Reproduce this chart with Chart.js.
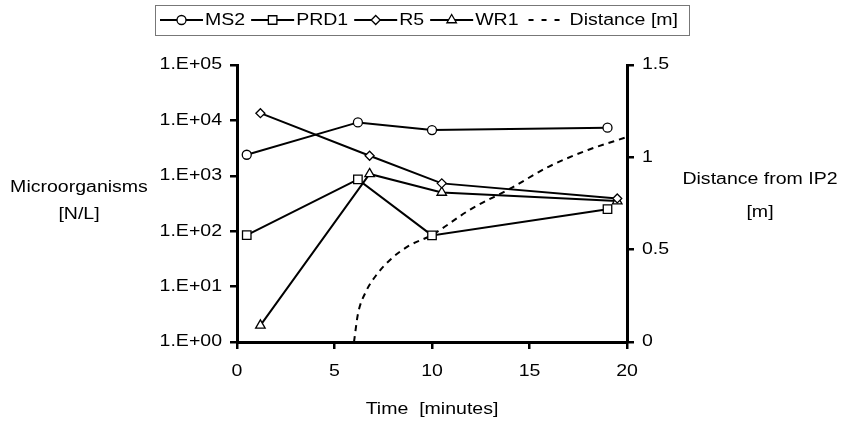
<!DOCTYPE html>
<html>
<head>
<meta charset="utf-8">
<title>Microorganisms vs time</title>
<script src="https://cdn.jsdelivr.net/npm/chart.js@4.4.1/dist/chart.umd.min.js"></script>
<style>
  html, body { margin: 0; padding: 0; background: #fff; }
  #wrap { width: 841px; height: 425px; position: relative; }
</style>
</head>
<body>
<div id="wrap"><canvas id="chart"></canvas></div>
<script>
// values
const ms2Time = [0.5, 6.2, 10.0, 19.0];
const ms2Values = [2400, 9200, 6700, 7400];

const prd1Time = [0.5, 6.2, 10.0, 19.0];
const prd1Values = [85, 860, 84, 250];

const r5Time = [1.2, 6.8, 10.5, 19.5];
const r5Values = [13500, 2300, 730, 390];

const wr1Time = [1.2, 6.8, 10.5, 19.5];
const wr1Values = [2.0, 1080, 500, 350];

const distTime = [6.0, 6.2, 6.6, 7.2, 7.9, 8.8, 10, 12, 14, 16, 18, 20];
const distValues = [0, 0.15, 0.27, 0.37, 0.45, 0.52, 0.58, 0.72, 0.83, 0.95, 1.04, 1.11];

const logTicks = [1, 10, 100, 1000, 10000, 100000];
const seriesNames = ['MS2', 'PRD1', 'R5', 'WR1', 'Distance [m]'];

const FONT = '16px "Liberation Sans", Arial, sans-serif';
const SX = 1.22; // reference text is a little wide
const INK = '#000';

function pts(xs, ys) {
  return xs.map((x, i) => ({ x: x, y: ys[i] }));
}

function series(label, xs, ys, style, radius) {
  return {
    label: label,
    data: pts(xs, ys),
    yAxisID: 'y',
    borderColor: INK,
    borderWidth: 2,
    pointStyle: style,
    pointRadius: radius,
    pointHoverRadius: radius,
    pointBackgroundColor: '#fff',
    pointBorderColor: INK,
    pointBorderWidth: 1.3,
    tension: 0
  };
}

function text(ctx, str, x, y, align) {
  ctx.save();
  ctx.translate(x, y);
  ctx.scale(SX, 1);
  ctx.font = FONT;
  ctx.fillStyle = INK;
  ctx.textBaseline = 'middle';
  ctx.textAlign = align || 'left';
  ctx.fillText(str, 0, 0);
  ctx.restore();
}

function textWidth(ctx, str) {
  ctx.save();
  ctx.font = FONT;
  const w = ctx.measureText(str).width * SX;
  ctx.restore();
  return w;
}

function marker(ctx, style, x, y, r) {
  ctx.save();
  ctx.fillStyle = '#fff';
  ctx.strokeStyle = INK;
  ctx.lineWidth = 1.3;
  ctx.beginPath();
  if (style === 'circle') {
    ctx.arc(x, y, r, 0, Math.PI * 2);
  } else if (style === 'rect') {
    const s = r * Math.SQRT1_2;
    ctx.rect(x - s, y - s, 2 * s, 2 * s);
  } else if (style === 'rectRot') {
    ctx.moveTo(x, y - r); ctx.lineTo(x + r, y); ctx.lineTo(x, y + r); ctx.lineTo(x - r, y);
    ctx.closePath();
  } else if (style === 'triangle') {
    ctx.moveTo(x, y - r);
    ctx.lineTo(x + r * 0.866, y + r / 2);
    ctx.lineTo(x - r * 0.866, y + r / 2);
    ctx.closePath();
  }
  ctx.fill();
  ctx.stroke();
  ctx.restore();
}

// tick labels, axis titles and the boxed legend
const decorations = {
  id: 'decorations',
  afterDraw(chart) {
    const ctx = chart.ctx;
    const { x, y, y2 } = chart.scales;

    y.ticks.forEach((t, i) => {
      const exp = Math.round(Math.log10(t.value));
      text(ctx, '1.E+' + String(exp).padStart(2, '0'), 222, y.getPixelForTick(i), 'right');
    });
    y2.ticks.forEach((t, i) => {
      text(ctx, String(t.value), 642, y2.getPixelForTick(i), 'left');
    });
    x.ticks.forEach((t, i) => {
      text(ctx, String(t.value), x.getPixelForTick(i), 372, 'center');
    });

    text(ctx, 'Time  [minutes]', 432, 410, 'center');
    text(ctx, 'Microorganisms', 79, 188, 'center');
    text(ctx, '[N/L]', 79, 215, 'center');
    text(ctx, 'Distance from IP2', 760, 180, 'center');
    text(ctx, '[m]', 760, 213, 'center');

    // legend
    const ly = 20;
    let lx = 160;
    chart.data.datasets.forEach((ds, i) => {
      ctx.save();
      ctx.strokeStyle = INK;
      ctx.lineWidth = 2;
      if (ds.borderDash) {
        ctx.setLineDash([5, 8]);
        ctx.beginPath(); ctx.moveTo(lx + 4, ly); ctx.lineTo(lx + 43, ly); ctx.stroke();
      } else {
        ctx.beginPath(); ctx.moveTo(lx, ly); ctx.lineTo(lx + 43, ly); ctx.stroke();
      }
      ctx.restore();
      if (!ds.borderDash) marker(ctx, ds.pointStyle, lx + 21.5, ly, ds.pointRadius);
      text(ctx, seriesNames[i], lx + 45, ly + 1, 'left');
      lx += 45 + textWidth(ctx, seriesNames[i]) + 6;
    });
    ctx.save();
    ctx.strokeStyle = '#777';
    ctx.lineWidth = 1;
    ctx.strokeRect(155.5, 5.5, Math.round(lx + 5 - 155), 30);
    ctx.restore();
  }
};

const datasets = [
  series('MS2', ms2Time, ms2Values, 'circle', 4.5),
  series('PRD1', prd1Time, prd1Values, 'rect', 6),
  series('R5', r5Time, r5Values, 'rectRot', 4.5),
  series('WR1', wr1Time, wr1Values, 'triangle', 5.5),
  {
    label: 'Distance [m]',
    data: pts(distTime, distValues),
    yAxisID: 'y2',
    borderColor: INK,
    borderWidth: 2,
    borderDash: [6, 5],
    pointRadius: 0,
    cubicInterpolationMode: 'monotone'
  }
];

const axisBorder = { display: true, color: INK, width: 3 };
const axisGrid = { drawOnChartArea: false, drawTicks: true, tickLength: 7, color: INK, lineWidth: 2.5 };

new Chart(document.getElementById('chart'), {
  type: 'line',
  data: { datasets: datasets },
  plugins: [decorations],
  options: {
    responsive: true,
    maintainAspectRatio: false,
    animation: false,
    devicePixelRatio: 1,
    layout: { padding: { top: 65, left: 0, right: 0, bottom: 0 } },
    plugins: { legend: { display: false }, tooltip: { enabled: false } },
    scales: {
      x: {
        type: 'linear',
        min: 0, max: 20,
        ticks: { stepSize: 5, display: false },
        grid: axisGrid,
        border: axisBorder,
        afterFit: s => { s.height = 83; }
      },
      y: {
        type: 'logarithmic',
        position: 'left',
        min: 1, max: 100000,
        afterBuildTicks: s => { s.ticks = logTicks.map(v => ({ value: v })); },
        ticks: { display: false },
        grid: axisGrid,
        border: axisBorder,
        afterFit: s => { s.width = 237; }
      },
      y2: {
        type: 'linear',
        position: 'right',
        min: 0, max: 1.5,
        ticks: { stepSize: 0.5, display: false },
        grid: axisGrid,
        border: axisBorder,
        afterFit: s => { s.width = 214; }
      }
    }
  }
});
</script>
</body>
</html>
